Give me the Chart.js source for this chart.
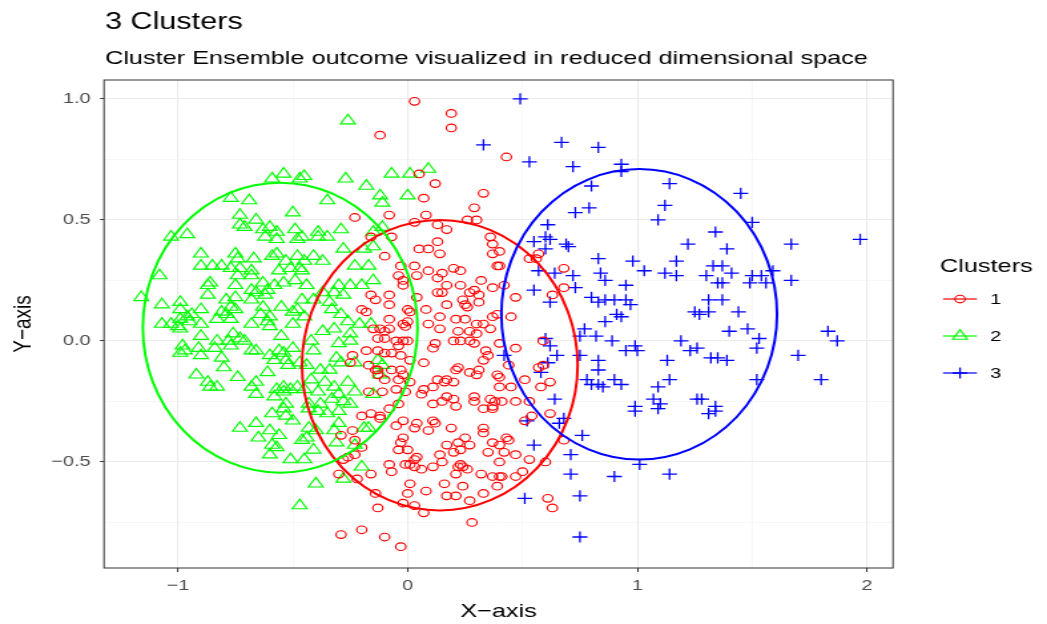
<!DOCTYPE html>
<html>
<head>
<meta charset="utf-8">
<script src="https://cdn.jsdelivr.net/npm/chart.js@4"></script>
<style>
  html, body { margin: 0; padding: 0; background: #ffffff; }
  #plot { display: block; }
</style>
</head>
<body>
<!-- the canvas is drawn narrow and widened by its inline style -->
<canvas id="plot" width="787" height="624" style="width:1047px;height:624px"></canvas>
<script>
document.addEventListener("DOMContentLoaded", function() {
    const STRETCH = 1047 / 787;
    const FONT = "'Liberation Sans', Arial, Helvetica, sans-serif";

    // cluster membership and coordinates in the reduced space
    const clusterNames = ['1', '2', '3'];

    const cluster1 = [
        [0.03,0.99],[0.19,0.94],[0.19,0.88],[-0.12,0.85],[0.43,0.76],[0.05,0.69],[0.12,0.65],[0.33,0.61],[0.07,0.59],[0.29,0.55],
        [-0.23,0.51],[-0.08,0.52],[0.08,0.52],[0.03,0.49],[0.13,0.48],[0.17,0.46],[0.26,0.50],[0.30,0.50],[0.36,0.43],[-0.16,0.43],
        [-0.07,0.43],[0.13,0.41],[0.37,0.40],[0.05,0.38],[0.09,0.38],[0.14,0.36],[-0.10,0.35],[0.37,0.36],[0.39,0.31],[0.20,0.30],
        [0.23,0.29],[0.09,0.29],[-0.03,0.31],[0.03,0.31],[-0.04,0.27],[-0.02,0.25],[-0.02,0.23],[0.04,0.27],[0.13,0.26],[0.15,0.28],
        [0.17,0.23],[0.23,0.23],[0.32,0.25],[0.37,0.22],[0.13,0.20],[0.15,0.20],[0.27,0.20],[0.29,0.21],[0.31,0.19],[0.24,0.17],
        [0.25,0.15],[0.26,0.14],[0.31,0.16],[0.17,0.15],[0.04,0.18],[-0.16,0.19],[-0.14,0.17],[-0.08,0.19],[-0.08,0.15],[-0.20,0.13],
        [-0.18,0.12],[0.00,0.13],[0.01,0.12],[0.08,0.13],[0.14,0.10],[0.21,0.09],[0.25,0.09],[0.30,0.07],[0.33,0.07],[0.37,0.10],
        [-0.08,0.09],[-0.02,0.07],[0.00,0.08],[-0.01,0.06],[0.09,0.07],[0.14,0.05],[0.22,0.04],[0.27,0.04],[0.30,0.03],[0.36,0.05],
        [-0.12,0.05],[-0.10,0.04],[-0.08,0.05],[-0.15,0.05],[-0.13,0.01],[-0.10,0.01],[-0.05,0.00],[-0.02,0.00],[0.00,0.00],[-0.04,-0.02],
        [0.12,-0.01],[0.20,0.00],[0.23,0.00],[0.29,-0.01],[0.27,0.00],[-0.18,-0.04],[-0.13,-0.04],[-0.10,-0.05],[-0.07,-0.05],[-0.03,-0.06],
        [0.11,-0.03],[0.34,-0.04],[0.35,-0.06],[0.33,-0.08],[0.01,-0.08],[0.07,-0.09],[-0.24,-0.06],[-0.25,-0.09],[-0.17,-0.10],[-0.14,-0.12],
        [-0.13,-0.12],[-0.13,-0.14],[-0.07,-0.12],[-0.03,-0.12],[-0.02,-0.14],[-0.10,-0.16],[-0.04,-0.16],[0.01,-0.17],[0.22,-0.11],[0.21,-0.12],
        [0.27,-0.13],[0.31,-0.12],[0.30,-0.14],[0.39,-0.14],[0.13,-0.16],[0.17,-0.16],[0.16,-0.17],[0.20,-0.17],[0.11,-0.19],[0.07,-0.20],
        [0.06,-0.22],[-0.17,-0.21],[-0.11,-0.21],[-0.05,-0.20],[-0.01,-0.21],[0.17,-0.23],[0.20,-0.24],[0.15,-0.25],[0.29,-0.23],[0.29,-0.25],
        [0.36,-0.24],[0.38,-0.25],[0.37,-0.27],[-0.04,-0.26],[0.11,-0.26],[0.40,0.37],[0.53,0.34],[0.57,0.36],[0.56,0.34],[0.40,0.31],
        [0.68,0.30],[0.42,0.23],[0.68,0.22],[0.63,0.19],[0.47,0.18],[0.39,0.11],[0.45,0.10],[0.40,-0.01],[0.47,-0.03],[0.59,0.00],
        [0.44,-0.10],[0.57,-0.11],[0.59,-0.10],[0.40,-0.15],[0.51,-0.16],[0.62,-0.17],[0.45,-0.19],[0.58,-0.19],[0.40,-0.19],[0.41,-0.25],
        [0.47,-0.25],[0.53,-0.25],[-0.20,-0.31],[-0.16,-0.30],[-0.12,-0.31],[-0.12,-0.32],[-0.08,-0.28],[-0.02,-0.33],[-0.05,-0.35],[0.04,-0.34],
        [0.03,-0.36],[0.09,-0.37],[0.11,-0.33],[0.12,-0.34],[0.21,-0.27],[0.19,-0.36],[0.33,-0.28],[0.37,-0.28],[0.33,-0.36],[0.33,-0.38],
        [-0.29,-0.39],[-0.24,-0.37],[-0.23,-0.41],[-0.20,-0.44],[-0.02,-0.40],[-0.03,-0.42],[-0.04,-0.45],[0.00,-0.45],[0.17,-0.43],[0.22,-0.42],
        [0.23,-0.45],[0.25,-0.40],[0.27,-0.43],[0.20,-0.46],[0.35,-0.46],[0.37,-0.42],[0.14,-0.47],[0.04,-0.48],[0.03,-0.49],[-0.08,-0.51],
        [-0.01,-0.51],[0.01,-0.51],[0.03,-0.52],[0.06,-0.53],[0.11,-0.52],[0.15,-0.50],[0.22,-0.52],[0.23,-0.51],[0.24,-0.52],[0.26,-0.53],
        [0.21,-0.55],[-0.28,-0.49],[-0.26,-0.48],[-0.23,-0.47],[-0.30,-0.55],[-0.22,-0.57],[-0.16,-0.55],[-0.07,-0.54],[0.32,-0.55],[0.37,-0.56],
        [0.40,-0.56],[0.01,-0.59],[0.16,-0.59],[0.24,-0.60],[0.39,-0.60],[-0.14,-0.63],[0.00,-0.63],[0.08,-0.62],[0.17,-0.64],[0.21,-0.64],
        [0.33,-0.63],[-0.02,-0.67],[0.03,-0.68],[0.27,-0.66],[-0.13,-0.69],[0.07,-0.71],[0.28,-0.75],[-0.29,-0.80],[-0.20,-0.78],[-0.10,-0.81],
        [-0.03,-0.85],[0.62,-0.30],[0.54,-0.31],[0.51,-0.33],[0.43,-0.40],[0.44,-0.41],[0.40,-0.43],[0.47,-0.47],[0.42,-0.46],[0.53,-0.49],
        [0.60,-0.50],[0.40,-0.50],[0.50,-0.54],[0.47,-0.56],[0.41,-0.56],[0.68,-0.41],[0.61,-0.65],[0.63,-0.69]
    ];

    const cluster2 = [
        [-0.54,0.69],[-0.59,0.67],[-0.47,0.67],[-0.77,0.59],[-0.69,0.58],[-0.50,0.53],[-0.73,0.52],[-0.66,0.50],[-0.73,0.48],[-0.71,0.47],
        [-0.63,0.46],[-0.60,0.47],[-0.57,0.45],[-0.49,0.46],[-0.62,0.43],[-0.57,0.42],[-0.48,0.42],[-1.03,0.43],[-0.96,0.44],[-0.26,0.91],
        [0.09,0.71],[0.01,0.69],[-0.07,0.69],[-0.27,0.67],[-0.45,0.68],[-0.18,0.64],[-0.35,0.58],[-0.12,0.60],[-0.11,0.57],[0.00,0.60],
        [-0.11,0.47],[-0.29,0.46],[-0.39,0.45],[-0.39,0.43],[-0.35,0.43],[-0.15,0.45],[-0.46,0.43],[-0.90,0.36],[-0.90,0.31],[-0.85,0.31],
        [-0.81,0.31],[-0.75,0.36],[-0.74,0.34],[-0.67,0.34],[-0.59,0.35],[-0.57,0.36],[-0.53,0.33],[-0.48,0.35],[-0.77,0.30],[-0.73,0.30],
        [-0.74,0.27],[-0.68,0.29],[-0.68,0.27],[-0.56,0.29],[-0.51,0.30],[-0.47,0.30],[-1.08,0.27],[-1.16,0.18],[-1.07,0.15],[-0.99,0.16],
        [-0.99,0.13],[-0.90,0.13],[-0.94,0.11],[-0.96,0.10],[-0.86,0.24],[-0.87,0.23],[-0.87,0.19],[-0.75,0.23],[-0.63,0.24],[-0.58,0.23],
        [-0.54,0.24],[-0.49,0.25],[-0.68,0.21],[-0.66,0.20],[-0.61,0.21],[-0.62,0.19],[-0.75,0.18],[-0.79,0.17],[-0.68,0.17],[-0.63,0.14],
        [-0.55,0.14],[-0.77,0.14],[-0.75,0.13],[-0.81,0.12],[-0.79,0.11],[-0.83,0.09],[-0.77,0.09],[-0.64,0.11],[-0.60,0.10],[-0.50,0.12],
        [-0.48,0.13],[-0.99,0.09],[-0.95,0.08],[-1.07,0.07],[-1.03,0.07],[-1.00,0.06],[-0.99,0.05],[-0.90,0.07],[-0.68,0.07],[-0.61,0.08],
        [-0.60,0.06],[-0.50,0.07],[-0.55,0.02],[-0.76,0.03],[-0.73,0.01],[-0.71,0.00],[-0.90,0.02],[-0.83,0.00],[-0.78,0.00],[-0.77,-0.02],
        [-0.98,-0.02],[-0.97,-0.04],[-0.99,-0.05],[-0.91,-0.03],[-0.90,-0.06],[-0.84,-0.03],[-0.81,-0.07],[-0.80,-0.11],[-0.68,-0.04],[-0.66,-0.04],
        [-0.60,-0.06],[-0.56,-0.04],[-0.54,-0.05],[-0.50,-0.03],[-0.58,-0.08],[-0.53,-0.08],[-0.52,-0.10],[-0.47,-0.09],[-0.92,-0.14],[-0.87,-0.17],
        [-0.86,-0.19],[-0.83,-0.19],[-0.74,-0.15],[-0.61,-0.13],[-0.66,-0.17],[-0.68,-0.19],[-0.66,-0.22],[-0.57,-0.20],[-0.54,-0.19],[-0.51,-0.20],
        [-0.48,-0.19],[-0.58,-0.23],[-0.54,-0.21],[-0.53,-0.26],[-0.73,-0.36],[-0.66,-0.34],[-0.59,-0.30],[-0.54,-0.28],[-0.53,-0.31],[-0.50,-0.33],
        [-0.60,-0.37],[-0.56,-0.39],[-0.65,-0.40],[-0.59,-0.43],[-0.57,-0.44],[-0.60,-0.47],[-0.51,-0.49],[-0.46,-0.41],[-0.47,-0.68],[-0.28,0.38],
        [-0.19,0.38],[-0.15,0.39],[-0.41,0.35],[-0.37,0.33],[-0.45,0.33],[-0.23,0.31],[-0.17,0.31],[-0.46,0.29],[-0.44,0.23],[-0.30,0.23],
        [-0.25,0.23],[-0.20,0.23],[-0.15,0.25],[-0.37,0.20],[-0.32,0.20],[-0.28,0.19],[-0.46,0.17],[-0.41,0.17],[-0.34,0.16],[-0.33,0.13],
        [-0.29,0.11],[-0.26,0.08],[-0.21,0.07],[-0.16,0.07],[-0.45,0.10],[-0.37,0.04],[-0.32,0.05],[-0.25,0.03],[-0.42,0.00],[-0.41,-0.04],
        [-0.30,-0.01],[-0.25,0.00],[-0.31,-0.07],[-0.29,-0.09],[-0.23,-0.09],[-0.13,-0.08],[-0.11,-0.10],[-0.44,-0.10],[-0.38,-0.12],[-0.34,-0.12],
        [-0.12,-0.14],[-0.42,-0.16],[-0.36,-0.17],[-0.32,-0.19],[-0.26,-0.17],[-0.45,-0.20],[-0.39,-0.21],[-0.30,-0.22],[-0.23,-0.21],[-0.15,-0.22],
        [-0.33,-0.24],[-0.28,-0.25],[-0.43,-0.26],[-0.38,-0.26],[-0.25,-0.26],[-0.43,-0.28],[-0.39,-0.29],[-0.35,-0.30],[-0.30,-0.29],[-0.43,-0.36],
        [-0.40,-0.37],[-0.44,-0.40],[-0.41,-0.45],[-0.32,-0.37],[-0.30,-0.34],[-0.31,-0.42],[-0.19,-0.36],[-0.17,-0.36],[-0.23,-0.43],[-0.45,-0.49],
        [-0.20,-0.52],[-0.28,-0.57],[-0.40,-0.59]
    ];

    const cluster3 = [
        [0.49,1.00],[0.33,0.81],[0.53,0.74],[0.67,0.82],[0.83,0.80],[0.72,0.72],[0.93,0.73],[0.93,0.70],[0.80,0.64],[1.14,0.65],
        [0.73,0.53],[0.79,0.55],[1.12,0.56],[1.09,0.50],[0.61,0.48],[0.55,0.41],[0.60,0.43],[0.62,0.42],[0.69,0.40],[1.22,0.40],
        [1.45,0.61],[1.50,0.49],[1.34,0.45],[1.67,0.40],[1.97,0.42],[0.60,0.38],[0.70,0.39],[0.83,0.34],[0.98,0.33],[1.03,0.29],
        [1.12,0.28],[1.17,0.33],[1.17,0.27],[0.57,0.29],[0.64,0.28],[0.72,0.27],[0.84,0.28],[0.86,0.25],[0.95,0.23],[0.55,0.21],
        [0.73,0.22],[0.62,0.16],[0.80,0.18],[0.83,0.16],[0.86,0.17],[0.90,0.17],[0.95,0.17],[0.97,0.15],[0.91,0.11],[0.93,0.10],
        [0.86,0.08],[0.77,0.05],[0.75,0.02],[0.82,0.02],[0.89,0.00],[0.60,0.01],[0.62,-0.02],[0.65,-0.06],[0.75,-0.06],[0.95,-0.04],
        [0.99,-0.02],[1.00,-0.04],[1.19,0.00],[1.23,-0.04],[1.25,0.12],[0.42,-0.06],[0.83,-0.08],[0.61,-0.09],[0.58,-0.13],[0.83,-0.12],
        [1.13,-0.08],[0.78,-0.16],[0.80,-0.18],[0.83,-0.18],[0.85,-0.19],[0.90,-0.16],[0.93,-0.18],[1.14,-0.16],[1.09,-0.19],[1.07,-0.24],
        [1.10,-0.26],[0.64,-0.24],[0.99,-0.27],[1.26,-0.24],[1.39,0.38],[1.33,0.31],[1.37,0.31],[1.41,0.28],[1.30,0.27],[1.35,0.24],
        [1.37,0.24],[1.50,0.27],[1.54,0.27],[1.59,0.29],[1.49,0.24],[1.56,0.24],[1.67,0.25],[1.31,0.17],[1.37,0.17],[1.27,0.11],
        [1.31,0.12],[1.44,0.12],[1.40,0.04],[1.48,0.05],[1.53,0.01],[1.52,-0.03],[1.26,-0.03],[1.32,-0.07],[1.35,-0.07],[1.39,-0.08],
        [1.70,-0.06],[1.83,0.04],[1.87,0.00],[1.52,-0.16],[1.80,-0.16],[1.28,-0.24],[1.34,-0.27],[0.52,-0.33],[0.68,-0.32],[0.99,-0.29],
        [1.09,-0.28],[0.76,-0.39],[0.55,-0.43],[0.71,-0.47],[0.71,-0.55],[0.90,-0.56],[1.01,-0.51],[1.14,-0.55],[0.75,-0.64],[0.51,-0.65],
        [0.75,-0.81],[0.66,-0.34],[1.31,-0.30],[1.34,-0.29]
    ];

    // normal-theory ellipses fitted to each cluster: centre and semi-axes
    const ellipseCentres = [[0.14, -0.10], [-0.555, 0.055], [1.008, 0.11]];
    const ellipseRadii = [[0.6, 0.6], [0.598, 0.599], [0.6, 0.6]];

    const xRange = [-1.322, 2.113];
    const yRange = [-0.938, 1.078];
    const xTickValues = [-1, 0, 1, 2];
    const yTickValues = [-0.5, 0, 0.5, 1];

    const colours = ['#FF0000', '#00FF00', '#0000FF'];
    const shapes = ['circle', 'triangle', 'cross'];
    const radii = [3.8, 6.4, 5.6];
    const widths = [1.15, 1.15, 1.3];

    const isMajor = (v, list) => list.some(t => Math.abs(t - v) < 1e-6);
    const minus = s => s.replace('-', '\u2212');

    const datasets = [cluster1, cluster2, cluster3].map(function(pts, i) {
        return {
            label: clusterNames[i],
            data: pts.map(p => ({x: p[0], y: p[1]})),
            pointStyle: shapes[i],
            pointRadius: radii[i],
            pointBorderWidth: widths[i],
            borderColor: colours[i],
            backgroundColor: 'rgba(0,0,0,0)',
            pointHoverRadius: radii[i]
        };
    });

    const gridColour = ctx => isMajor(ctx.tick.value, ctx.scale.axis === 'x' ? xTickValues : yTickValues) ? '#EBEBEB' : '#F2F2F2';
    const gridWidth = ctx => isMajor(ctx.tick.value, ctx.scale.axis === 'x' ? xTickValues : yTickValues) ? 1.1 : 0.6;
    const tickColour = ctx => isMajor(ctx.tick.value, ctx.scale.axis === 'x' ? xTickValues : yTickValues) ? '#333333' : 'rgba(0,0,0,0)';

    // ellipses, panel border, titles and the legend
    const decorations = {
        id: 'decorations',
        afterDatasetsDraw(chart) {
            const {ctx, chartArea: a, scales: {x, y}} = chart;
            ctx.save();
            ctx.beginPath();
            ctx.rect(a.left, a.top, a.width, a.height);
            ctx.clip();
            ellipseCentres.forEach(function(c, i) {
                const cx = x.getPixelForValue(c[0]);
                const cy = y.getPixelForValue(c[1]);
                const rx = x.getPixelForValue(c[0] + ellipseRadii[i][0]) - cx;
                const ry = cy - y.getPixelForValue(c[1] + ellipseRadii[i][1]);
                ctx.beginPath();
                ctx.ellipse(cx, cy, rx, ry, 0, 0, Math.PI * 2);
                ctx.strokeStyle = colours[i];
                ctx.lineWidth = 2;
                ctx.stroke();
            });
            ctx.restore();

            ctx.save();
            ctx.strokeStyle = '#333333';
            ctx.lineWidth = 1;
            ctx.strokeRect(a.left, a.top, a.width, a.height);
            ctx.restore();
        },
        afterDraw(chart) {
            const {ctx, chartArea: a} = chart;
            ctx.save();
            ctx.fillStyle = '#000000';
            ctx.textAlign = 'left';
            ctx.textBaseline = 'alphabetic';
            ctx.font = '23px ' + FONT;
            ctx.fillText('3 Clusters', 105 / STRETCH, 29);
            ctx.font = '19px ' + FONT;
            ctx.fillText('Cluster Ensemble outcome visualized in reduced dimensional space', 105 / STRETCH, 64);

            // axis titles
            ctx.font = '19px ' + FONT;
            ctx.textAlign = 'center';
            ctx.fillText('X\u2212axis', (a.left + a.right) / 2, 617);
            ctx.save();
            ctx.translate(31 / STRETCH, (a.top + a.bottom) / 2);
            ctx.rotate(-Math.PI / 2);
            ctx.fillText('Y\u2212axis', 0, 0);
            ctx.restore();

            // legend
            ctx.textAlign = 'left';
            ctx.font = '19px ' + FONT;
            ctx.fillText('Clusters', 940 / STRETCH, 272);
            ctx.font = '15px ' + FONT;
            ctx.textBaseline = 'middle';
            const rows = [299, 336, 373];
            clusterNames.forEach(function(name, i) {
                const y0 = rows[i];
                ctx.strokeStyle = colours[i];
                ctx.lineWidth = 1.2;
                ctx.beginPath();
                ctx.moveTo(943 / STRETCH, y0);
                ctx.lineTo(977 / STRETCH, y0);
                ctx.stroke();
                ctx.fillStyle = 'rgba(0,0,0,0)';
                ctx.lineWidth = widths[i];
                Chart.helpers.drawPoint(ctx, {pointStyle: shapes[i], radius: radii[i], borderWidth: widths[i], rotation: 0}, 960 / STRETCH, y0);
                ctx.fillStyle = '#000000';
                ctx.fillText(name, 990 / STRETCH, y0 + 1);
            });
            ctx.restore();
        }
    };

    const tickFont = {family: FONT, size: 15};

    new Chart(document.getElementById('plot').getContext('2d'), {
        type: 'scatter',
        data: {datasets: datasets},
        options: {
            responsive: false,
            devicePixelRatio: 1,
            animation: false,
            events: [],
            layout: {padding: {left: 0, top: 80, right: 787 - 893 / STRETCH, bottom: 0}},
            plugins: {legend: {display: false}, tooltip: {enabled: false}, title: {display: false}},
            scales: {
                x: {
                    type: 'linear',
                    min: xRange[0],
                    max: xRange[1],
                    afterFit: s => { s.height = 624 - 568; },
                    border: {display: false},
                    grid: {color: gridColour, lineWidth: gridWidth, tickLength: 4, tickColor: tickColour, tickWidth: 1},
                    ticks: {
                        stepSize: 0.5, includeBounds: false, autoSkip: false, maxRotation: 0, padding: 5,
                        color: '#4D4D4D', font: tickFont,
                        callback: v => isMajor(v, xTickValues) ? minus(String(Math.round(v))) : ''
                    }
                },
                y: {
                    type: 'linear',
                    min: yRange[0],
                    max: yRange[1],
                    afterFit: s => { s.width = 104 / STRETCH; },
                    border: {display: false},
                    grid: {color: gridColour, lineWidth: gridWidth, tickLength: 3, tickColor: tickColour, tickWidth: 1},
                    ticks: {
                        stepSize: 0.25, includeBounds: false, autoSkip: false, padding: 7,
                        color: '#4D4D4D', font: tickFont,
                        callback: v => isMajor(v, yTickValues) ? minus(v.toFixed(1)) : ''
                    }
                }
            }
        },
        plugins: [decorations]
    });
});
</script>
</body>
</html>
